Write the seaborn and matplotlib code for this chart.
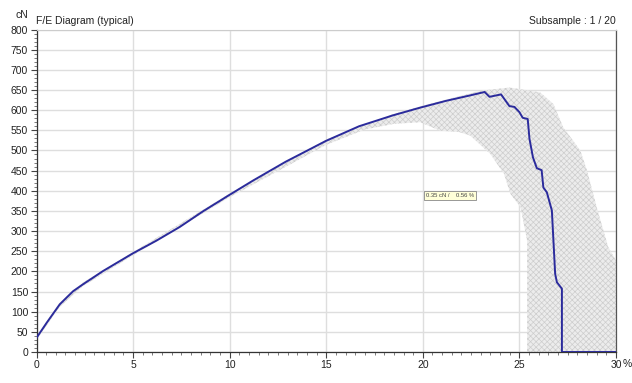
import numpy as np
import pandas as pd
import matplotlib
matplotlib.use("Agg")
import matplotlib.pyplot as plt
import seaborn as sns
from matplotlib.ticker import MultipleLocator

# ---- data ----
elong = [0, 0.52, 1.2, 1.6, 1.9, 2.41, 3.45, 5.0, 6.2, 7.41, 8.62, 10, 11.2, 12.9,
         15, 16.7, 18.45, 19.85, 21.2, 22.4, 23.2,
         23.45, 24.05, 24.48, 24.74, 25.0, 25.17, 25.43, 25.52, 25.7, 25.9, 26.15,
         26.24, 26.42, 26.68, 26.85, 26.94, 27.2, 27.2, 30]
force = [35, 72, 118, 137, 151, 168, 201, 245, 276, 310, 349, 390, 425, 472,
         524, 560, 587, 606, 623, 636, 645,
         633, 639, 610, 608, 595, 581, 578, 529, 483, 456, 451,
         408, 396, 351, 194, 173, 157, 0, 0]

band_up_x = [0, 1.2, 2.4, 5, 10, 15, 18.45, 20, 22.97, 24.5, 26.07, 26.76, 27.27,
             28.15, 28.5, 29.0, 29.6, 30]
band_up_y = [38, 122, 172, 248, 393, 527, 590, 611, 648, 656, 644, 615, 557,
             500, 450, 359, 260, 227]
band_lo_x = [30, 25.4, 25.4, 25.06, 24.54, 24.2, 23.5, 22.45, 21.85, 20.9, 19.86,
             18.5, 17, 15, 10, 5, 2.4, 1.2, 0]
band_lo_y = [0, 0, 276, 359, 392, 442, 491, 537, 546, 549, 570,
             566, 552, 514, 384, 240, 163, 112, 30]

x_ticks = [0, 5, 10, 15, 20, 25, 30]
x_labels = ["0", "5", "10", "15", "20", "25", "30"]
y_ticks = list(range(0, 801, 50))

sns.set_theme(style="white")
plt.rcParams['font.family'] = ['Liberation Sans', 'DejaVu Sans']
plt.rcParams['hatch.linewidth'] = 0.5

fig = plt.figure(figsize=(6.32, 3.83), dpi=100)
ax = fig.add_axes([36.5/632, 1-352/383, (616-36.5)/632, (352-29.5)/383])

# band of all subsamples
poly_x = band_up_x + band_lo_x
poly_y = band_up_y + band_lo_y
ax.fill(poly_x, poly_y, facecolor="#ececec", edgecolor="#cdcdcd", hatch="xxxxxx",
        linewidth=0, zorder=1)

df = pd.DataFrame({"Elongation": elong, "Force": force})
sns.lineplot(data=df, x="Elongation", y="Force", sort=False, color="#2b2b9c",
             linewidth=1.4, ax=ax, zorder=3, estimator=None)

ax.set_xlim(0, 30)
ax.set_ylim(0, 800)
ax.set_xticks(x_ticks)
ax.set_xticklabels(x_labels)
ax.set_yticks(y_ticks)
ax.xaxis.set_minor_locator(MultipleLocator(0.5))
ax.yaxis.set_minor_locator(MultipleLocator(10))
ax.tick_params(axis="both", which="major", direction="out", length=4, width=0.8,
               color="#444444", labelsize=7.5, pad=2, labelcolor="#222222",
               bottom=True, left=True)
ax.tick_params(axis="both", which="minor", direction="out", length=2, width=0.6,
               color="#666666", bottom=True, left=True)
ax.set_xlabel("")
ax.set_ylabel("")

ax.grid(True, which="major", color="#dedede", linewidth=1.0, zorder=0)
ax.set_axisbelow(True)

for side in ["left", "bottom"]:
    ax.spines[side].set_color("#333333")
    ax.spines[side].set_linewidth(0.9)
ax.spines["right"].set_color("#555555")
ax.spines["right"].set_linewidth(0.9)
ax.spines["top"].set_color("#cccccc")
ax.spines["top"].set_linewidth(0.8)

fig.text(15/632, 1-15/383, "cN", fontsize=7.5, ha="left", va="center", color="#222222")
fig.text(36/632, 1-21/383, "F/E Diagram (typical)", fontsize=7.5, ha="left", va="center",
         color="#222222")
fig.text(616/632, 1-21/383, "Subsample : 1 / 20", fontsize=7.5, ha="right", va="center",
         color="#222222")
fig.text(623/632, 1-364/383, "%", fontsize=7.5, ha="left", va="center", color="#222222")

ax.text(21.4, 388, "0.35 cN /    0.56 %", fontsize=4.2, ha="center", va="center",
        color="#444444", zorder=5,
        bbox=dict(boxstyle="square,pad=0.35", facecolor="#ffffd8", edgecolor="#888888",
                  linewidth=0.6))

fig.savefig("out.png", dpi=100)
